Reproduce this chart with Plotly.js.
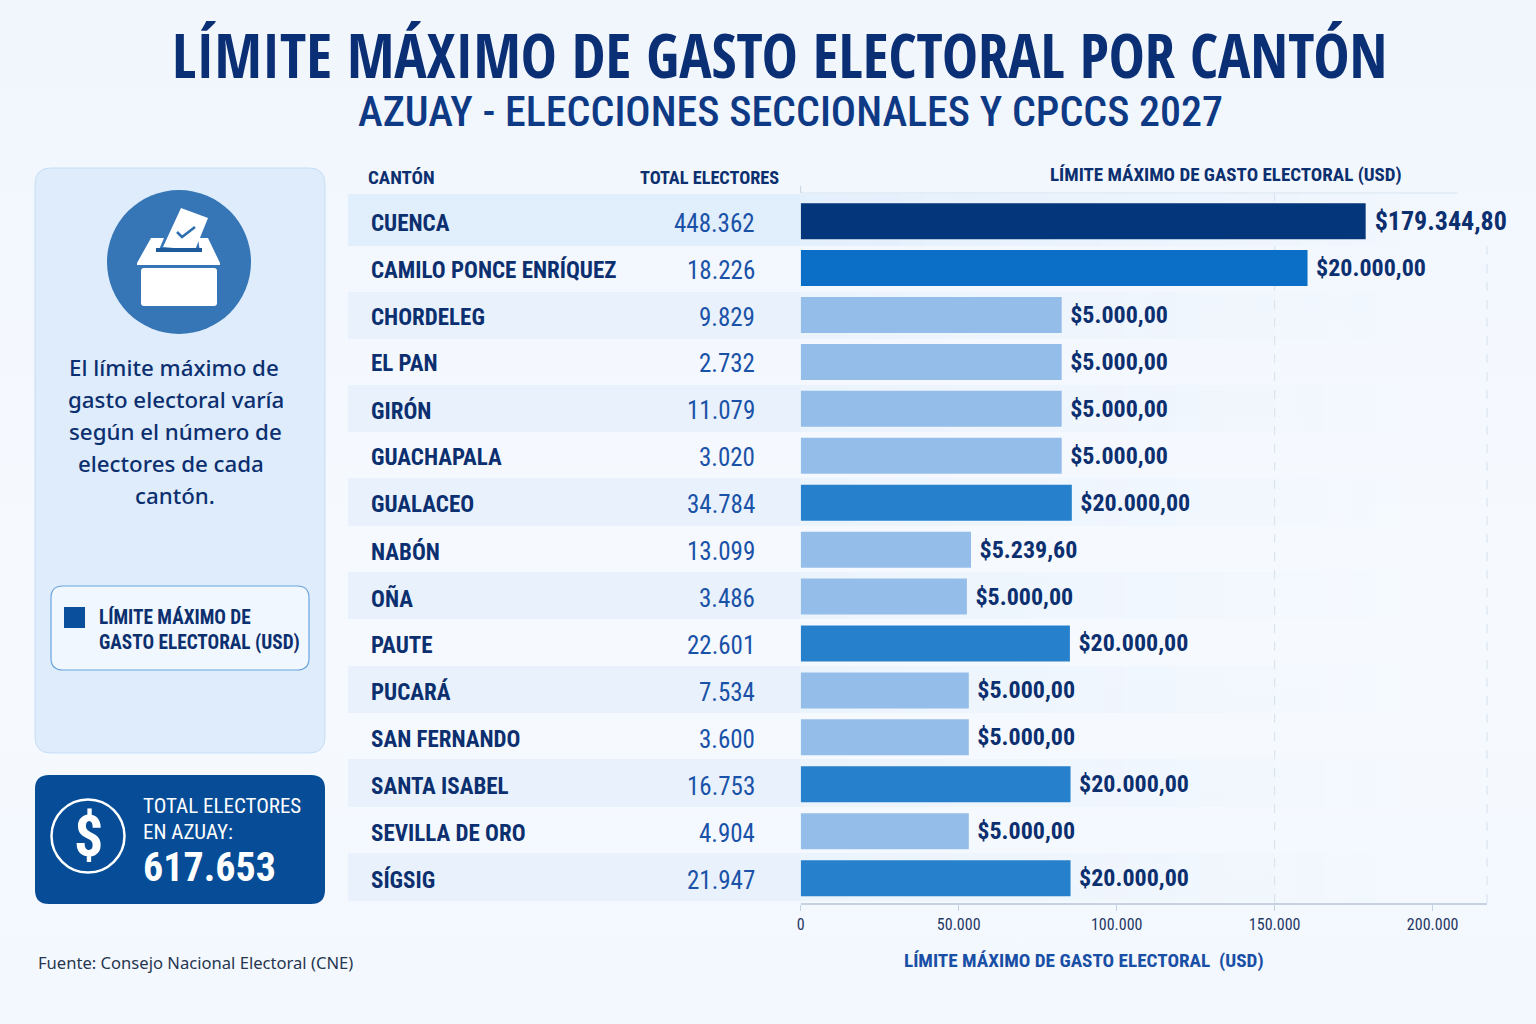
<!DOCTYPE html>
<html lang="es">
<head>
<meta charset="utf-8">
<title>Límite máximo de gasto electoral por cantón</title>
<script src="https://cdn.plot.ly/plotly-3.0.1.min.js"></script>
<style>
html,body{margin:0;padding:0;width:1536px;height:1024px;overflow:hidden;background:linear-gradient(180deg,#f1f6fd 0%,#f6faff 60%,#f3f8fe 100%);}
#chart{width:1536px;height:1024px;}
</style>
</head>
<body>
<div id="chart"></div>
<script>
// Data
const cantons = ["CUENCA","CAMILO PONCE ENRÍQUEZ","CHORDELEG","EL PAN","GIRÓN","GUACHAPALA","GUALACEO","NABÓN","OÑA","PAUTE","PUCARÁ","SAN FERNANDO","SANTA ISABEL","SEVILLA DE ORO","SÍGSIG"];
const electors = [448362,18226,9829,2732,11079,3020,34784,13099,3486,22601,7534,3600,16753,4904,21947];
const limitLabels = ["$179.344,80","$20.000,00","$5.000,00","$5.000,00","$5.000,00","$5.000,00","$20.000,00","$5.239,60","$5.000,00","$20.000,00","$5.000,00","$5.000,00","$20.000,00","$5.000,00","$20.000,00"];
// Bar lengths as drawn in the reference, read against its axis. Only CUENCA agrees with its printed label.
const barLengths = [178800,160400,82600,82600,82600,82600,85800,53900,52600,85200,53200,53200,85400,53200,85400];
const axisTicks = [0,50000,100000,150000,200000];
const axisTickLabels = ["0","50.000","100.000","150.000","200.000"];
const panelLines = ["El límite máximo de","gasto electoral varía","según el número de","electores de cada","cantón."];

// Styling
const W = 1536, H = 1024;
const NAVY = "#0c2f6f", BLUE = "#1a52a8";
const NARROW = "'Roboto Condensed','Open Sans Condensed',sans-serif", TITLE = "'Open Sans Condensed','Roboto Condensed',sans-serif", SANS = "'Noto Sans',sans-serif";
const px = x => x / W, py = y => 1 - y / H;
const barColor = (lab, i) => i === 0 ? "#03367a" : i === 1 ? "#0b6fc7" : lab === "$20.000,00" ? "#2680cc" : "#95bde9";
const fmt = n => String(n).replace(/\B(?=(\d{3})+$)/g, ".");

const shapes = [], annotations = [];
const rect = (x0, y0, x1, y1, fill, opts = {}) => shapes.push(Object.assign({type:"rect", xref:"paper", yref:"paper", layer:"below", x0:px(x0), x1:px(x1), y0:py(y0), y1:py(y1), fillcolor:fill, line:{width:0}}, opts));
const pathShape = (pts, fill, line) => shapes.push({type:"path", xref:"paper", yref:"paper", layer:"below", path:pts, fillcolor:fill, line:line || {width:0}});
const P = (x, y) => `${px(x)},${py(y)}`;
function rounded(x0, y0, x1, y1, r) {
  return `M${P(x0+r,y0)} L${P(x1-r,y0)} Q${P(x1,y0)} ${P(x1,y0+r)} L${P(x1,y1-r)} Q${P(x1,y1)} ${P(x1-r,y1)} L${P(x0+r,y1)} Q${P(x0,y1)} ${P(x0,y1-r)} L${P(x0,y0+r)} Q${P(x0,y0)} ${P(x0+r,y0)} Z`;
}
function poly(points) { return "M" + points.map(p => P(p[0], p[1])).join(" L") + " Z"; }
function circle(cx, cy, r, fill, line) {
  shapes.push({type:"circle", xref:"paper", yref:"paper", layer:"below", x0:px(cx-r), x1:px(cx+r), y0:py(cy+r), y1:py(cy-r), fillcolor:fill, line:line || {width:0}});
}
const note = (text, x, y, size, color, anchor = "left", weight = "normal", family = NARROW) =>
  annotations.push({text, x:px(x + (anchor === "left" ? -2 : anchor === "right" ? 2 : 0)), y:py(y), xref:"paper", yref:"paper", xanchor:anchor, yanchor:"middle", showarrow:false, align:anchor, font:{family, size, color, weight}});

// Row bands, fading to the right
const bandTops = [[194,246,"#e1eefb"],[292,339,"#e9f2fc"],[385,432,"#e9f2fc"],[478,526,"#e9f2fc"],[572,619,"#e9f2fc"],[666,713,"#e9f2fc"],[759,807,"#e9f2fc"],[853,901,"#e9f2fc"]];
bandTops.forEach(b => {
  rect(348, b[0], 800, b[1], b[2]);
  for (let s = 0; s < 24; s++) {
    rect(800 + s*25, b[0], 825 + s*25, b[1], b[2], {opacity: 0.85 * (1 - s/24)});
  }
});

// Left panel
pathShape(rounded(35,168,325,753,16), "#deecfb", {color:"#c5def6", width:1});
circle(179,262,72,"#3676b6");
pathShape(poly([[181,208],[208,218],[195,250],[163,247]]), "#ffffff");
pathShape(`M${P(177,232)} L${P(182,237)} L${P(195,227)}`, "rgba(0,0,0,0)", {color:"#2f6fb0", width:2.6});
pathShape(poly([[151,238],[164,238],[158,252],[200,252],[198,238],[208,238],[220,263],[220,265],[137,265],[137,263]]), "#ffffff");
rect(156,248,202,252,"#1d5a9c");
pathShape(rounded(141,268,217,306,3), "#ffffff");
const lineX = [174,176,175,171,175];
panelLines.forEach((t,i) => note(t, lineX[i], 367 + i*32.2, 22.3, NAVY, "center", "500", SANS));

// Legend box
pathShape(rounded(51,586,309,670,12), "#f1f7fe", {color:"#6ba4dc", width:1.2});
rect(64,607,85,628,"#0a4f9c");
note("LÍMITE MÁXIMO DE", 99, 617, 19.3, NAVY, "left", "bold");
note("GASTO ELECTORAL (USD)", 99, 642, 19.3, NAVY, "left", "bold");

// Total card
pathShape(rounded(35,775,325,904,14), "#064c97");
circle(88,836,36.5,"rgba(0,0,0,0)",{color:"#ffffff",width:2.5});
note("$", 88, 836, 58, "#ffffff", "center", "bold", NARROW);
note("TOTAL ELECTORES", 143, 806, 21, "#ffffff");
note("EN AZUAY:", 143, 832, 21, "#ffffff");
note(fmt(617653), 143, 867, 40, "#ffffff", "left", "bold");

// Titles and headers
note("LÍMITE MÁXIMO DE GASTO ELECTORAL POR CANTÓN", 779.5, 54, 60.5, "#0a2f75", "center", "bold", TITLE);
note("AZUAY - ELECCIONES SECCIONALES Y CPCCS 2027", 790.5, 111, 42, "#0e3a85", "center", "500");
note("CANTÓN", 368, 177, 19, NAVY, "left", "bold");
note("TOTAL ELECTORES", 640, 177, 18.3, NAVY, "left", "bold");
note("LÍMITE MÁXIMO DE GASTO ELECTORAL (USD)", 1050, 174, 19, NAVY, "left", "bold");
note("Fuente: Consejo Nacional Electoral (CNE)", 38, 962, 16.6, "#26364f", "left", "normal", SANS);
note("LÍMITE MÁXIMO DE GASTO ELECTORAL  (USD)", 904, 960, 19.2, "#1a4fa6", "left", "bold");

// Grid and top rule
shapes.push({type:"line", xref:"x", yref:"paper", layer:"below", x0:150000, x1:150000, y0:py(903), y1:py(193), line:{color:"#d5e0ec", width:1, dash:"dash"}});
shapes.push({type:"line", xref:"paper", yref:"paper", layer:"below", x0:px(1487), x1:px(1487), y0:py(903), y1:py(245), line:{color:"#d5e0ec", width:1, dash:"dash"}});
shapes.push({type:"line", xref:"paper", yref:"paper", layer:"below", x0:px(800.7), x1:px(1458), y0:py(193), y1:py(193), line:{color:"#d7e3f0", width:1}});
shapes.push({type:"line", xref:"paper", yref:"paper", layer:"below", x0:px(800.7), x1:px(800.7), y0:py(193), y1:py(186), line:{color:"#c7d3e2", width:1}});

// Table columns
cantons.forEach((c,i) => {
  annotations.push({text:c, x:px(369), y:c, xref:"paper", yref:"y", yshift:-2, xanchor:"left", yanchor:"middle", showarrow:false, font:{family:NARROW, size:23, color:NAVY, weight:"bold"}});
  annotations.push({text:fmt(electors[i]), x:px(757), y:c, xref:"paper", yref:"y", yshift:-2, xanchor:"right", yanchor:"middle", showarrow:false, font:{family:NARROW, size:25, color:BLUE}});
});

const trace = {
  type:"bar", orientation:"h", y:cantons, x:barLengths, width:0.767,
  marker:{color:limitLabels.map(barColor), line:{width:0}},
  text:limitLabels.map(l => "\u00a0" + l), textposition:"outside", cliponaxis:false, constraintext:"none",
  textfont:{family:NARROW, size:limitLabels.map((l,i)=> i===0?26:24), color:NAVY, weight:"bold"},
  hovertemplate:"%{y}<br>%{text}<extra></extra>"
};

const layout = {
  width:W, height:H, margin:{l:0,r:0,t:0,b:0,pad:0},
  paper_bgcolor:"rgba(0,0,0,0)", plot_bgcolor:"rgba(0,0,0,0)", showlegend:false,
  xaxis:{domain:[px(800.7),px(1487)], range:[0,217200], tickmode:"array", tickvals:axisTicks, ticktext:axisTickLabels, showgrid:false, zeroline:false, showline:true, linecolor:"#c6d2e2", linewidth:1.5, ticks:"outside", ticklen:6, tickcolor:"#c6d2e2", tickfont:{family:NARROW, size:16, color:"#1f3763"}, anchor:"y", automargin:false},
  yaxis:{domain:[py(903),py(193)], range:[14.53,-0.6], type:"category", showticklabels:false, showgrid:false, zeroline:false, showline:false, ticks:"", anchor:"x", automargin:false},
  shapes, annotations
};
Plotly.newPlot("chart",[trace],layout,{displayModeBar:false,staticPlot:true});
</script>
</body>
</html>
